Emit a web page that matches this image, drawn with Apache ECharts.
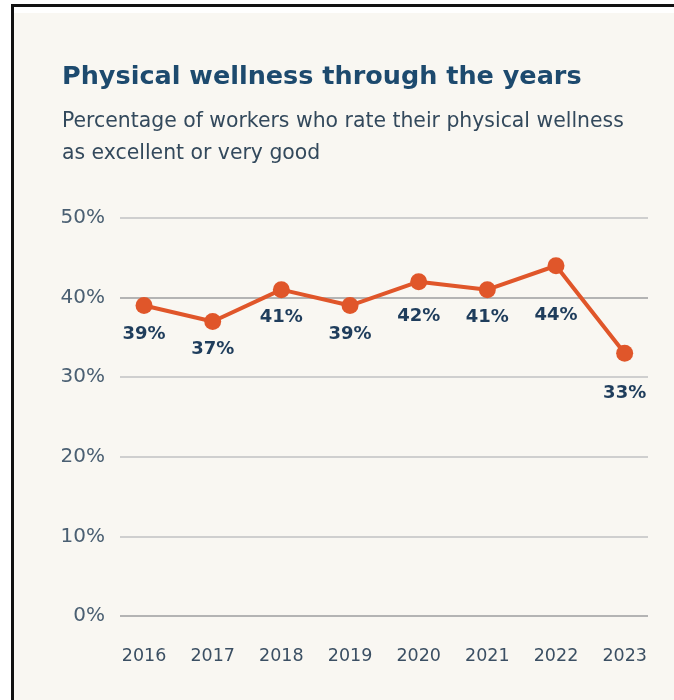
<!DOCTYPE html>
<html>
<head>
<meta charset="utf-8">
<script src="https://cdn.jsdelivr.net/npm/echarts@6/dist/echarts.min.js"></script>
<style>
  html, body { margin: 0; padding: 0; background: #ffffff; }
  #frame {
    position: absolute; left: 11px; top: 4px; right: 0; bottom: 0;
    border-top: 3px solid #111; border-left: 3px solid #111;
    background: #ffffff;
  }
  #panel {
    position: absolute; left: 14px; top: 13px; right: 0; bottom: 0;
    background: #f9f7f2;
  }
  #chart { position: absolute; left: 0; top: 0; width: 674px; height: 700px; }
</style>
</head>
<body>
<div id="frame"></div>
<div id="panel"></div>
<div id="chart"></div>
<script>
// Share of workers rating their physical wellness as excellent or very good
const years = ['2016', '2017', '2018', '2019', '2020', '2021', '2022', '2023'];
const wellnessPct = [39, 37, 41, 39, 42, 41, 44, 33];
const yTicks = [0, 10, 20, 30, 40, 50];

// distance between each point and its value label (px)
const labelGap = [11, 10, 10, 11, 17, 10, 32, 23];

const FONT = 'DejaVu Sans';

const chart = echarts.init(document.getElementById('chart'), null, { renderer: 'canvas' });

const seriesData = wellnessPct.map((v, i) => ({
  value: [i, v],
  label: { distance: labelGap[i] }
}));

chart.setOption({
  backgroundColor: 'transparent',
  animation: false,
  title: {
    text: 'Physical wellness through the years',
    subtext: 'Percentage of workers who rate their physical wellness\nas excellent or very good',
    left: 57,
    top: 59,
    itemGap: 16,
    textStyle: {
      fontFamily: FONT,
      fontWeight: 'bold',
      fontSize: 25.5,
      color: '#1d4a6e'
    },
    subtextStyle: {
      fontFamily: FONT,
      fontSize: 20.4,
      lineHeight: 32,
      color: '#33495c'
    }
  },
  grid: { left: 120, right: 26, top: 218, bottom: 84 },
  xAxis: {
    type: 'value',
    min: -0.35,
    max: 7.34,
    axisLine: { show: false },
    axisTick: { show: false },
    splitLine: { show: false },
    axisLabel: {
      customValues: years.map((_, i) => i),
      formatter: v => years[Math.round(v)],
      margin: 31,
      fontFamily: FONT,
      fontSize: 17.5,
      color: '#3b4f63'
    }
  },
  yAxis: {
    type: 'value',
    min: yTicks[0],
    max: yTicks[yTicks.length - 1],
    interval: 10,
    axisLine: { show: false },
    axisTick: { show: false },
    axisLabel: {
      formatter: '{value}%',
      margin: 15,
      fontFamily: FONT,
      fontSize: 20,
      color: '#4a5f72'
    },
    splitLine: {
      lineStyle: {
        width: 2,
        color: ['#b4b4b4', '#cfcfcf', '#cfcfcf', '#cfcfcf', '#b4b4b4', '#cfcfcf']
      }
    }
  },
  series: [{
    type: 'line',
    data: seriesData,
    symbol: 'circle',
    symbolSize: 17,
    lineStyle: { color: '#e0562a', width: 4 },
    itemStyle: { color: '#e0562a' },
    label: {
      show: true,
      position: 'bottom',
      formatter: p => p.value[1] + '%',
      fontFamily: FONT,
      fontWeight: 'bold',
      fontSize: 18,
      color: '#1f3d5c'
    },
    z: 3
  }]
});
</script>
</body>
</html>
